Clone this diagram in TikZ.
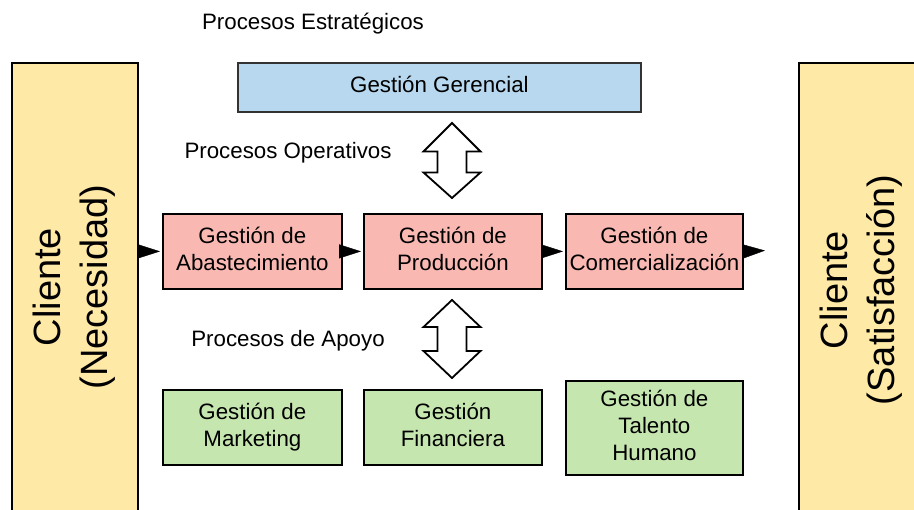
\documentclass[tikz,border=0pt]{standalone}
\usepackage{fontspec}
\setmainfont{Liberation Sans}
\usetikzlibrary{arrows.meta}
\definecolor{cliyel}{HTML}{FFE9A6}
\definecolor{gerblue}{HTML}{B8D8EF}
\definecolor{opred}{HTML}{F9B9B2}
\definecolor{apgreen}{HTML}{C6E6B0}
\newcommand{\lstr}{\rule[-6pt]{0pt}{0pt}}
\begin{document}
\begin{tikzpicture}[x=1pt,y=-1pt,
  boxbase/.style={draw=black, line width=1.8pt, inner sep=0pt, align=center, anchor=north west,
    font=\fontsize{22.3}{27}\selectfont},
  clibox/.style={boxbase, fill=cliyel, minimum width=126pt, minimum height=470pt},
  clitext/.style={rotate=90, align=center, font=\fontsize{38}{47}\selectfont},
  gerbox/.style={boxbase, draw=black!80, fill=gerblue},
  opbox/.style={boxbase, fill=opred, minimum height=75pt},
  apbox/.style={boxbase, fill=apgreen},
  lbl/.style={font=\fontsize{22.3}{27}\selectfont},
  tri/.style={line width=0.4pt, -{Triangle[length=22pt,width=14pt]}, shorten >=2pt},
  dbl/.style={draw=black, line width=1.8pt, fill=white, line join=miter}
]
\useasboundingbox (0,0) rectangle (914,510);
% client columns
\node[clibox] (cl) at (11,62) {};
\node[clibox] (cr) at (798,62) {};
\node[clitext] (clt) at (74,287) {Cliente\\(Necesidad)};
\node[clitext] (crt) at (861,290) {Cliente\\(Satisfacción)};
% headings
\node[lbl] (pe) at (313,24) {Procesos Estratégicos};
\node[lbl] (po) at (288,153) {Procesos Operativos};
\node[lbl] (pa) at (288,341) {Procesos de Apoyo};
% strategic
\node[gerbox, minimum width=403pt, minimum height=49pt] (ger) at (237,62) {Gestión Gerencial\lstr};
% operative
\node[opbox, minimum width=179pt] (abs) at (162,213) {Gestión de\\Abastecimiento\lstr};
\node[opbox, minimum width=178pt] (prod) at (363,213) {Gestión de\\Producción\lstr};
\node[opbox, minimum width=177pt] (com) at (565,213) {Gestión de\\Comercialización\lstr};
% support
\node[apbox, minimum width=179pt, minimum height=75pt] (mkt) at (162,389) {Gestión de\\Marketing\lstr};
\node[apbox, minimum width=178pt, minimum height=75pt] (fin) at (363,389) {Gestión\\Financiera\lstr};
\node[apbox, minimum width=177pt, minimum height=94pt] (tal) at (565,380) {Gestión de\\Talento\\Humano\lstr};
% flow arrows
\coordinate (endc) at (767,250.5);
\draw[tri] (cl.east |- abs.west) -- (abs.west);
\draw[tri] (abs.east) -- (prod.west);
\draw[tri] (prod.east) -- (com.west);
\draw[tri] (com.east) -- (endc);
% double block arrows
\coordinate (a1) at (452,160.5);
\coordinate (a2) at (452,339);
\draw[dbl, shift={(a1)}] (0,-37.5) -- (28.5,-9) -- (14.5,-9) -- (14.5,12) -- (28.5,12) -- (0,37.5)
  -- (-28.5,12) -- (-14.5,12) -- (-14.5,-9) -- (-28.5,-9) -- cycle;
\draw[dbl, shift={(a2)}] (0,-39) -- (28.5,-12) -- (14.5,-12) -- (14.5,12) -- (28.5,12) -- (0,39)
  -- (-28.5,12) -- (-14.5,12) -- (-14.5,-12) -- (-28.5,-12) -- cycle;
\end{tikzpicture}
\end{document}
